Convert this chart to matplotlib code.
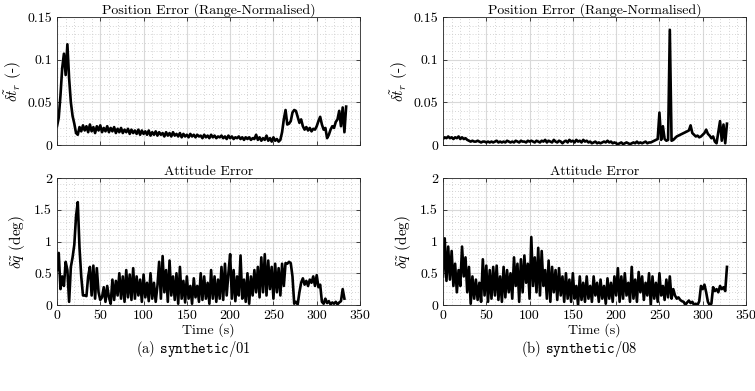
import numpy as np
import matplotlib
matplotlib.use("Agg")
import matplotlib.pyplot as plt
from matplotlib.ticker import MultipleLocator, FuncFormatter

# sample spacing of the logged errors (s)
dt = 2.0

# synthetic/01 - range-normalised position error
pos_01 = [
    0.022, 0.032, 0.058, 0.09, 0.107, 0.082, 0.118, 0.078, 0.05, 0.034,
    0.025, 0.014, 0.012, 0.021, 0.016, 0.023, 0.017, 0.022, 0.015, 0.024,
    0.016, 0.021, 0.014, 0.022, 0.017, 0.023, 0.015, 0.02, 0.016, 0.022,
    0.015, 0.02, 0.016, 0.021, 0.014, 0.019, 0.015, 0.02, 0.014, 0.018,
    0.015, 0.019, 0.013, 0.018, 0.014, 0.017, 0.013, 0.018, 0.012, 0.017,
    0.013, 0.016, 0.012, 0.017, 0.011, 0.015, 0.012, 0.016, 0.011, 0.015,
    0.012, 0.014, 0.01, 0.015, 0.011, 0.014, 0.01, 0.015, 0.011, 0.013,
    0.01, 0.014, 0.009, 0.013, 0.01, 0.012, 0.009, 0.013, 0.01, 0.012,
    0.009, 0.012, 0.01, 0.011, 0.008, 0.012, 0.009, 0.011, 0.008, 0.012,
    0.009, 0.011, 0.008, 0.01, 0.009, 0.011, 0.008, 0.01, 0.007, 0.011,
    0.008, 0.01, 0.007, 0.009, 0.008, 0.01, 0.007, 0.009, 0.006, 0.009,
    0.007, 0.009, 0.006, 0.008, 0.007, 0.012, 0.006, 0.009, 0.005, 0.008,
    0.006, 0.011, 0.005, 0.008, 0.004, 0.009, 0.005, 0.007, 0.004, 0.006,
    0.015, 0.03, 0.041, 0.024, 0.025, 0.028, 0.038, 0.041, 0.04, 0.033,
    0.026, 0.03, 0.022, 0.018, 0.021, 0.017, 0.02, 0.016, 0.019, 0.018,
    0.022, 0.028, 0.033, 0.024, 0.018, 0.02, 0.008, 0.012, 0.018, 0.022,
    0.02, 0.027, 0.03, 0.04, 0.022, 0.044, 0.015, 0.045,
]

# synthetic/01 - attitude error (deg)
att_01 = [
    0.55, 0.82, 0.25, 0.45, 0.3, 0.68, 0.55, 0.05, 0.6, 0.75,
    0.95, 1.4, 1.62, 0.9, 0.45, 0.15, 0.15, 0.14, 0.45, 0.6,
    0.15, 0.62, 0.1, 0.58, 0.2, 0.08, 0.12, 0.28, 0.05, 0.3,
    0.12, 0.02, 0.4, 0.08, 0.38, 0.15, 0.5, 0.1, 0.45, 0.05,
    0.55, 0.12, 0.48, 0.08, 0.58, 0.1, 0.45, 0.15, 0.4, 0.05,
    0.48, 0.12, 0.35, 0.06, 0.5, 0.1, 0.35, 0.05, 0.3, 0.68,
    0.1, 0.77, 0.2, 0.55, 0.05, 0.7, 0.15, 0.45, 0.08, 0.5,
    0.02, 0.6, 0.1, 0.38, 0.04, 0.45, 0.1, 0.3, 0.02, 0.42,
    0.12, 0.3, 0.05, 0.5, 0.08, 0.45, 0.1, 0.35, 0.02, 0.55,
    0.1, 0.45, 0.05, 0.4, 0.1, 0.6, 0.08, 0.65, 0.15, 0.5,
    0.8, 0.1, 0.55, 0.06, 0.45, 0.15, 0.78, 0.1, 0.4, 0.05,
    0.5, 0.02, 0.45, 0.15, 0.55, 0.2, 0.6, 0.12, 0.75, 0.2,
    0.8, 0.15, 0.7, 0.25, 0.6, 0.1, 0.65, 0.2, 0.58, 0.15,
    0.65, 0.3, 0.66, 0.65, 0.68, 0.66, 0.45, 0.02, 0.05, 0.01,
    0.2, 0.35, 0.42, 0.32, 0.38, 0.3, 0.4, 0.35, 0.45, 0.3,
    0.47, 0.28, 0.32, 0.05, 0.02, 0.1, 0.03, 0.06, 0.01, 0.04,
    0.02, 0.05, 0.01, 0.04, 0.06, 0.25, 0.1,
]

# synthetic/08 - range-normalised position error
pos_08 = [
    0.007, 0.009, 0.008, 0.01, 0.008, 0.009, 0.007, 0.009, 0.008, 0.01,
    0.007, 0.009, 0.007, 0.008, 0.006, 0.005, 0.004, 0.005, 0.004, 0.004,
    0.005, 0.004, 0.003, 0.004, 0.004, 0.003, 0.004, 0.003, 0.004, 0.003,
    0.004, 0.005, 0.003, 0.004, 0.003, 0.004, 0.003, 0.005, 0.004, 0.003,
    0.004, 0.003, 0.005, 0.004, 0.003, 0.005, 0.004, 0.004, 0.003, 0.005,
    0.004, 0.005, 0.004, 0.003, 0.005, 0.004, 0.003, 0.005, 0.004, 0.006,
    0.003, 0.005, 0.004, 0.003, 0.006, 0.004, 0.003, 0.005, 0.004, 0.002,
    0.004, 0.005, 0.003, 0.006, 0.004, 0.005, 0.003, 0.006, 0.004, 0.005,
    0.003, 0.006, 0.004, 0.005, 0.003, 0.004, 0.002, 0.003, 0.004, 0.002,
    0.003, 0.002, 0.003, 0.004, 0.003, 0.005, 0.003, 0.004, 0.002, 0.003,
    0.002, 0.001, 0.002, 0.003, 0.001, 0.002, 0.003, 0.002, 0.001, 0.002,
    0.003, 0.002, 0.004, 0.002, 0.003, 0.002, 0.003, 0.004, 0.002, 0.003,
    0.003, 0.004, 0.005, 0.006, 0.007, 0.038, 0.006, 0.022, 0.007, 0.005,
    0.006, 0.135, 0.005, 0.006, 0.008, 0.01, 0.011, 0.012, 0.013, 0.014,
    0.015, 0.016, 0.017, 0.023, 0.014, 0.012, 0.01, 0.011, 0.009, 0.01,
    0.012, 0.014, 0.018, 0.013, 0.011, 0.008, 0.01, 0.004, 0.002, 0.015,
    0.028, 0.005, 0.024, 0.002, 0.025,
]

# synthetic/08 - attitude error (deg)
att_08 = [
    0.45, 1.05, 0.38, 0.92, 0.4, 0.85, 0.3, 0.65, 0.2, 0.55,
    0.3, 0.92, 0.45, 0.75, 0.2, 0.6, 0.02, 0.45, 0.1, 0.4,
    0.08, 0.35, 0.05, 0.72, 0.15, 0.62, 0.05, 0.55, 0.1, 0.6,
    0.15, 0.62, 0.08, 0.45, 0.05, 0.6, 0.12, 0.55, 0.2, 0.5,
    0.1, 0.75, 0.3, 0.65, 0.05, 0.72, 0.2, 0.78, 0.35, 0.65,
    0.1, 1.07, 0.3, 0.75, 0.2, 0.9, 0.15, 0.85, 0.3, 0.55,
    0.1, 0.7, 0.05, 0.6, 0.2, 0.55, 0.08, 0.58, 0.15, 0.45,
    0.05, 0.5, 0.1, 0.4, 0.05, 0.5, 0.1, 0.3, 0.0, 0.45,
    0.08, 0.35, 0.05, 0.45, 0.1, 0.3, 0.05, 0.45, 0.15, 0.35,
    0.05, 0.4, 0.1, 0.3, 0.02, 0.42, 0.1, 0.35, 0.05, 0.45,
    0.15, 0.58, 0.05, 0.45, 0.1, 0.5, 0.15, 0.35, 0.05, 0.6,
    0.1, 0.4, 0.05, 0.52, 0.2, 0.45, 0.08, 0.35, 0.15, 0.5,
    0.0, 0.45, 0.1, 0.35, 0.05, 0.5, 0.15, 0.3, 0.08, 0.4,
    0.12, 0.45, 0.1, 0.25, 0.15, 0.1, 0.12, 0.08, 0.06, 0.05,
    0.0, 0.04, 0.07, 0.03, 0.05, 0.0, 0.02, 0.0, 0.06, 0.3,
    0.25, 0.32, 0.2, 0.05, 0.0, 0.02, 0.28, 0.22, 0.25, 0.2,
    0.3, 0.25, 0.28, 0.22, 0.6,
]

captions = [r"(a) $\mathtt{synthetic/01}$", r"(b) $\mathtt{synthetic/08}$"]

plt.rcParams['font.family'] = 'serif'
plt.rcParams['font.serif'] = ['cmr10', 'DejaVu Serif']
plt.rcParams['mathtext.fontset'] = 'cm'
plt.rcParams['axes.formatter.use_mathtext'] = True
plt.rcParams['font.size'] = 10

fig = plt.figure(figsize=(7.55, 3.91), dpi=100)

fmt = FuncFormatter(lambda v, p: "%g" % v)


def style_axes(ax, ymax, ymaj, ymin, show_x):
    ax.set_xlim(0, 350)
    ax.set_ylim(0, ymax)
    ax.xaxis.set_major_locator(MultipleLocator(50))
    ax.xaxis.set_minor_locator(MultipleLocator(10))
    ax.yaxis.set_major_locator(MultipleLocator(ymaj))
    ax.yaxis.set_minor_locator(MultipleLocator(ymin))
    ax.yaxis.set_major_formatter(fmt)
    ax.xaxis.set_major_formatter(fmt)
    ax.grid(which='major', color='#d9d9d9', lw=0.8, ls='-')
    ax.grid(which='minor', color='#c8c8c8', lw=0.6, ls=(0, (1, 2.5)))
    ax.set_axisbelow(True)
    ax.tick_params(which='major', direction='in', top=True, right=True,
                   length=3, width=0.6, labelsize=10, color='#262626')
    ax.tick_params(which='minor', length=0)
    if not show_x:
        ax.tick_params(labelbottom=False)
    for s in ax.spines.values():
        s.set_color('#262626')
        s.set_linewidth(0.6)


lefts = [57 / 755, 443 / 755]
width = 303 / 755
panels = [(pos_01, att_01), (pos_08, att_08)]

for i, (pos, att) in enumerate(panels):
    ax1 = fig.add_axes([lefts[i], 1 - 145 / 391, width, 128 / 391])
    t_pos = np.arange(len(pos)) * dt
    ax1.plot(t_pos, pos, color='black', lw=1.9)
    style_axes(ax1, 0.15, 0.05, 0.01, False)
    ax1.set_title('Position Error (Range-Normalised)', fontsize=10, pad=2)
    ax1.set_ylabel(r'$\delta\tilde{t}_r$ (-)', fontsize=11)
    ax1.yaxis.set_label_coords(-0.11, 0.5)

    ax2 = fig.add_axes([lefts[i], 1 - 305 / 391, width, 127 / 391])
    t_att = np.arange(len(att)) * dt
    ax2.plot(t_att, att, color='black', lw=1.9)
    style_axes(ax2, 2, 0.5, 0.1, True)
    ax2.set_title('Attitude Error', fontsize=10, pad=2)
    ax2.set_ylabel(r'$\delta\tilde{q}$ (deg)', fontsize=11)
    ax2.yaxis.set_label_coords(-0.10, 0.5)
    ax2.set_xlabel('Time (s)', fontsize=10, labelpad=1)

    xc = lefts[i] + width / 2
    fig.text(xc - 0.02, 1 - 349 / 391, captions[i], ha='center', va='center',
             fontsize=10.5)

fig.savefig('out.png', dpi=100)
